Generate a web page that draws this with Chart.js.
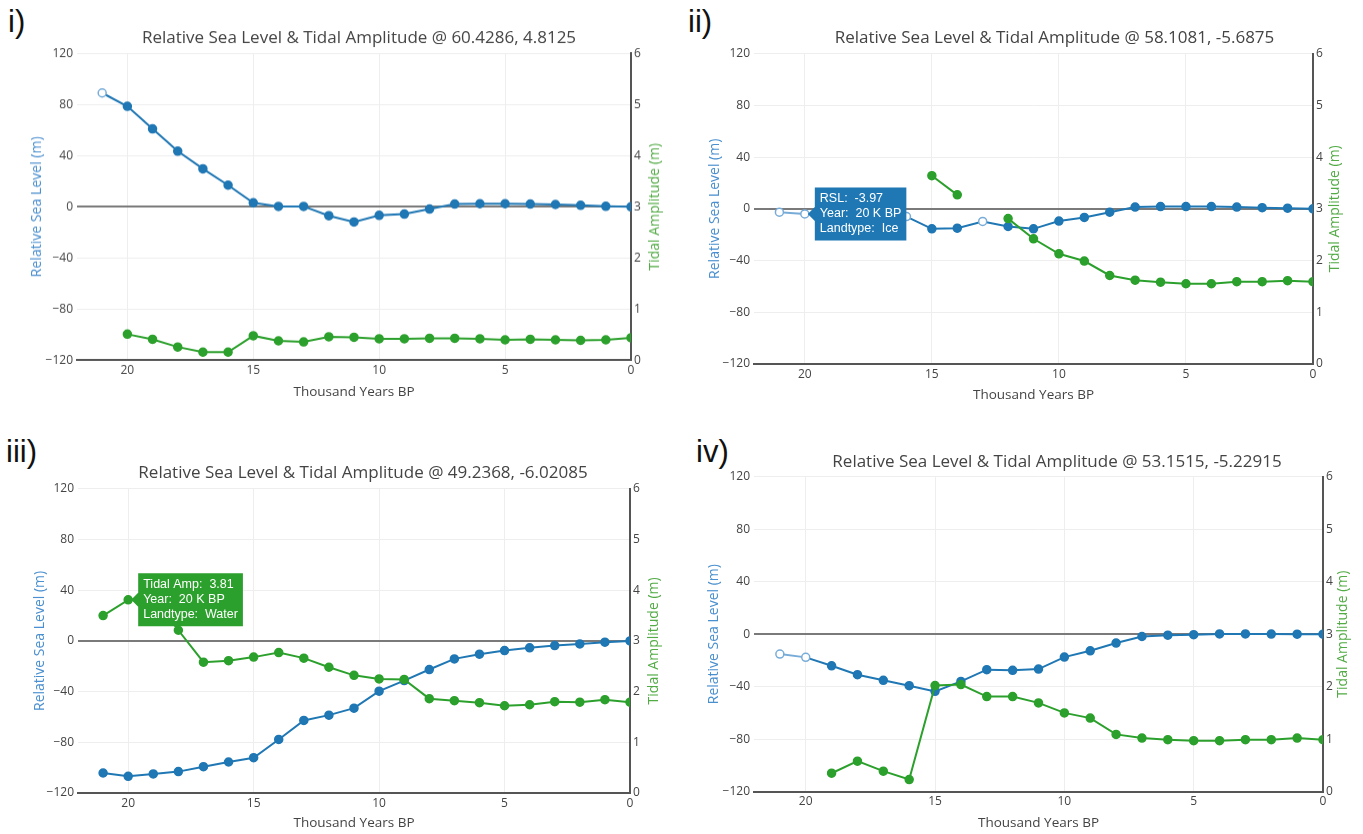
<!DOCTYPE html>
<html>
<head>
<meta charset="utf-8">
<script src="https://cdn.jsdelivr.net/npm/chart.js@4.4.1/dist/chart.umd.min.js"></script>
<style>
html, body { margin: 0; padding: 0; background: #fff; width: 1363px; height: 834px; overflow: hidden; position: relative; }
canvas { position: absolute; }
.tag { position: absolute; font-family: 'Liberation Sans', Arial, sans-serif; font-size: 31px; color: #111; line-height: 31px; }
</style>
</head>
<body>
<div class="tag" style="left:8px;top:6px">i)</div>
<div class="tag" style="left:688px;top:6px">ii)</div>
<div class="tag" style="left:6px;top:436px">iii)</div>
<div class="tag" style="left:696px;top:436px">iv)</div>
<canvas id="p1"></canvas>
<canvas id="p2"></canvas>
<canvas id="p3"></canvas>
<canvas id="p4"></canvas>
<script>
// thousand years BP
const years = [21, 20, 19, 18, 17, 16, 15, 14, 13, 12, 11, 10, 9, 8, 7, 6, 5, 4, 3, 2, 1, 0];

// i) 60.4286, 4.8125
const rsl1  = [89.0, 78.6, 60.9, 43.5, 29.7, 16.9, 3.1, 0.3, 0.3, -7.0, -11.9, -6.7, -5.7, -1.8, 2.1, 2.4, 2.4, 2.1, 1.8, 1.2, 0.4, 0.0];
const tide1 = [null, 0.51, 0.41, 0.26, 0.16, 0.16, 0.48, 0.38, 0.36, 0.46, 0.45, 0.42, 0.42, 0.43, 0.43, 0.42, 0.40, 0.41, 0.40, 0.39, 0.40, 0.44];
const ice1  = [21];

// ii) 58.1081, -5.6875
const rsl2  = [-2.6, -3.97, -4.6, -5.2, -5.6, -6.0, -15.5, -15.0, -9.8, -13.7, -15.5, -9.5, -6.7, -2.6, 1.3, 1.7, 1.7, 1.7, 1.3, 0.9, 0.5, 0.0];
const tide2 = [null, null, null, null, null, null, 3.64, 3.27, null, 2.81, 2.42, 2.13, 1.99, 1.71, 1.62, 1.58, 1.55, 1.55, 1.59, 1.59, 1.61, 1.59];
const ice2  = [21, 20, 19, 18, 17, 16, 13];

// iii) 49.2368, -6.02085
const rsl3  = [-104.3, -106.9, -105.0, -103.2, -99.3, -95.6, -92.2, -77.8, -62.8, -58.6, -53.1, -39.7, -31.3, -22.6, -14.2, -10.5, -7.6, -5.5, -3.7, -2.4, -1.0, 0.0];
const tide3 = [3.50, 3.81, 3.85, 3.21, 2.58, 2.61, 2.68, 2.77, 2.66, 2.48, 2.32, 2.25, 2.24, 1.86, 1.82, 1.78, 1.72, 1.74, 1.80, 1.79, 1.84, 1.79];
const ice3  = [];

// iv) 53.1515, -5.22915
const rsl4  = [-15.2, -17.7, -24.1, -30.9, -35.2, -39.3, -43.6, -36.0, -27.1, -27.6, -26.6, -17.5, -12.7, -6.8, -1.8, -0.8, -0.4, 0.2, 0.2, 0.1, 0.0, 0.0];
const tide4 = [null, null, 0.35, 0.58, 0.39, 0.23, 2.02, 2.04, 1.81, 1.81, 1.69, 1.50, 1.40, 1.09, 1.02, 0.99, 0.97, 0.97, 0.99, 0.99, 1.02, 0.99];
const ice4  = [21, 20];

const BLUE = '#1f77b4', BLUE_LIGHT = '#78acd8';
const GREEN = '#2ca02c';
const FONT = "'Open Sans', sans-serif";
const TIPFONT = "'Liberation Sans', Arial, sans-serif";

Chart.defaults.font.family = FONT;
Chart.defaults.color = '#444';

// plotly style minus sign on tick labels
const minusTick = function (v) { return String(v).replace('-', '\u2212'); };

// right axis title reads bottom-to-top like the left one
const rightTitle = {
  id: 'rightTitle',
  afterDraw(chart, args, opts) {
    const ctx = chart.ctx, a = chart.chartArea;
    ctx.save();
    ctx.translate(opts.x, (a.top + a.bottom) / 2);
    ctx.rotate(-Math.PI / 2);
    ctx.font = '14px ' + FONT;
    ctx.fillStyle = opts.color;
    ctx.textAlign = 'center';
    ctx.textBaseline = 'middle';
    ctx.fillText(opts.text, 0, 0);
    ctx.restore();
  }
};

const panels = [
  { id: 'p1', title: 'Relative Sea Level & Tidal Amplitude @ 60.4286, 4.8125', rsl: rsl1, tide: tide1, ice: ice1,
    x0: 0, titleX: 359, titleY: 38, L: 77, R: 631, T: 53, B: 360, xTitleY: 391.5, leftTitleX: 37.5, rightTitleX: 655, tip: null },
  { id: 'p2', title: 'Relative Sea Level & Tidal Amplitude @ 58.1081, -5.6875', rsl: rsl2, tide: tide2, ice: ice2,
    x0: 680, titleX: 1054.5, titleY: 38, L: 754, R: 1313, T: 53.5, B: 364, xTitleY: 395, leftTitleX: 715, rightTitleX: 1335, tip: [0, 1] },
  { id: 'p3', title: 'Relative Sea Level & Tidal Amplitude @ 49.2368, -6.02085', rsl: rsl3, tide: tide3, ice: ice3,
    x0: 0, titleX: 363, titleY: 473, L: 78, R: 630, T: 488.7, B: 793, xTitleY: 823, leftTitleX: 40, rightTitleX: 654, tip: [1, 1] },
  { id: 'p4', title: 'Relative Sea Level & Tidal Amplitude @ 53.1515, -5.22915', rsl: rsl4, tide: tide4, ice: ice4,
    x0: 680, titleX: 1057, titleY: 462, L: 754, R: 1323, T: 476.5, B: 792, xTitleY: 823.3, leftTitleX: 714, rightTitleX: 1343, tip: null }
];

panels.forEach(function (p) {
  const titleSize = 17, titleLH = titleSize * 1.2, titlePadTop = 1;
  const axSize = 13.5, axLH = axSize * 1.2, xTitlePadBottom = 1;
  const y0 = p.titleY - titleLH / 2 - titlePadTop;
  const w = 2 * (p.titleX - p.x0);
  const bottom = p.xTitleY + axLH / 2 + xTitlePadBottom;
  const h = bottom - y0;
  const leftW = p.L - p.x0;
  const rightW = p.x0 + w - p.R;
  const xAxisH = bottom - p.B;
  const yLH = 14 * 1.2;

  const cv = document.getElementById(p.id);
  cv.width = w; cv.height = h;
  cv.style.left = p.x0 + 'px'; cv.style.top = y0 + 'px';
  cv.style.width = w + 'px'; cv.style.height = h + 'px';

  const isIce = function (i) { return p.ice.indexOf(years[i]) >= 0; };

  const chart = new Chart(cv.getContext('2d'), {
    type: 'line',
    data: {
      datasets: [
        {
          label: 'RSL',
          data: years.map(function (x, i) { return { x: x, y: p.rsl[i] }; }),
          yAxisID: 'y',
          order: 1,
          borderColor: BLUE,
          borderWidth: 2,
          pointRadius: 4,
          pointBorderWidth: 1.5,
          pointBackgroundColor: years.map(function (x, i) { return isIce(i) ? '#fff' : BLUE; }),
          pointBorderColor: years.map(function (x, i) { return isIce(i) ? BLUE_LIGHT : BLUE; }),
          segment: {
            borderColor: function (c) { return (isIce(c.p0DataIndex) && isIce(c.p1DataIndex)) ? BLUE_LIGHT : undefined; }
          },
          tension: 0
        },
        {
          label: 'Tidal Amp',
          data: years.map(function (x, i) { return { x: x, y: p.tide[i] }; }),
          yAxisID: 'y1',
          order: 0,
          borderColor: GREEN,
          backgroundColor: GREEN,
          borderWidth: 2,
          pointRadius: 4,
          pointBorderWidth: 1.5,
          pointBackgroundColor: GREEN,
          spanGaps: false,
          tension: 0
        }
      ]
    },
    options: {
      responsive: false,
      animation: false,
      events: [],
      layout: { padding: 0 },
      plugins: {
        legend: { display: false },
        title: {
          display: true,
          text: p.title,
          color: '#444',
          font: { size: titleSize, weight: 'normal', family: FONT },
          padding: { top: titlePadTop, bottom: p.T - y0 - titlePadTop - titleLH }
        },
        rightTitle: { x: p.rightTitleX - p.x0, text: 'Tidal Amplitude (m)', color: '#52ab45' },
        tooltip: {
          enabled: true,
          backgroundColor: function (c) { return c.tooltip.dataPoints && c.tooltip.dataPoints[0] && c.tooltip.dataPoints[0].datasetIndex === 1 ? GREEN : BLUE; },
          displayColors: false,
          cornerRadius: 0,
          caretSize: 7,
          caretPadding: 3,
          xAlign: 'left',
          yAlign: 'center',
          padding: { x: 5, y: 4 },
          bodySpacing: 0,
          bodyColor: '#fff',
          bodyFont: { family: TIPFONT, size: 12.5 },
          callbacks: {
            title: function () { return ''; },
            label: function (c) {
              const land = isIce(c.dataIndex) ? 'Ice' : 'Water';
              const yr = 'Year:  ' + c.parsed.x + ' K BP';
              if (c.datasetIndex === 0) return ['RSL:  ' + c.parsed.y.toFixed(2), yr, 'Landtype:  ' + land];
              return ['Tidal Amp:  ' + c.parsed.y.toFixed(2), yr, 'Landtype:  ' + land];
            }
          }
        }
      },
      scales: {
        x: {
          type: 'linear',
          min: 0, max: 22,
          reverse: true,
          afterFit: function (s) { s.height = xAxisH; },
          ticks: { stepSize: 5, includeBounds: false, padding: 3, color: '#444', font: { size: 12 } },
          grid: { color: '#eeeeee', lineWidth: 1, drawTicks: false },
          border: { display: true, color: '#555', width: 2 },
          title: { display: true, text: 'Thousand Years BP', color: '#444', font: { size: axSize }, padding: { top: 0, bottom: xTitlePadBottom } }
        },
        y: {
          position: 'left',
          min: -120, max: 120,
          afterFit: function (s) { s.width = leftW; },
          ticks: { stepSize: 40, padding: 4, color: '#444', font: { size: 12 }, callback: minusTick },
          grid: {
            drawTicks: false,
            color: function (c) { return c.tick && c.tick.value === 0 ? '#7a7a7a' : '#eeeeee'; },
            lineWidth: function (c) { return c.tick && c.tick.value === 0 ? 2 : 1; }
          },
          border: { display: false },
          title: { display: true, text: 'Relative Sea Level (m)', color: '#4a8fcf', font: { size: 14 },
                   padding: { top: p.leftTitleX - p.x0 - yLH / 2, bottom: 0 } }
        },
        y1: {
          position: 'right',
          min: 0, max: 6,
          afterFit: function (s) { s.width = rightW; },
          ticks: { stepSize: 1, padding: 3, color: '#444', font: { size: 12 } },
          grid: { drawOnChartArea: false, drawTicks: false },
          border: { display: true, color: '#555', width: 2 }
        }
      }
    },
    plugins: [rightTitle]
  });

  if (p.tip) {
    chart.tooltip.setActiveElements([{ datasetIndex: p.tip[0], index: p.tip[1] }], { x: 0, y: 0 });
    chart.update();
  }
});
</script>
</body>
</html>
